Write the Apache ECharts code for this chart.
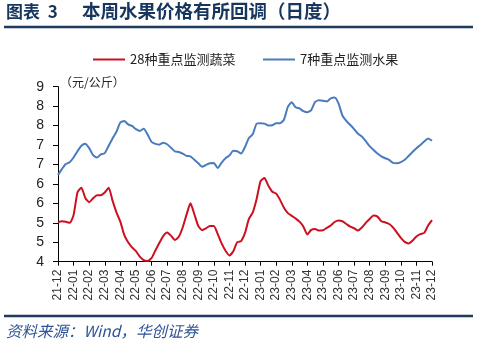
<!DOCTYPE html>
<html>
<head>
<meta charset="utf-8">
<script src="https://cdn.jsdelivr.net/npm/echarts@6/dist/echarts.min.js"></script>
<style>
  html, body { margin: 0; padding: 0; background: #fff; }
  #chart { width: 481px; height: 348px; }
</style>
</head>
<body>
<div id="chart"></div>
<script>
// Month tick labels on the x axis
var monthLabels = ['21-12','22-01','22-02','22-03','22-04','22-05','22-06','22-07','22-08','22-09','22-10','22-11','22-12',
                   '23-01','23-02','23-03','23-04','23-05','23-06','23-07','23-08','23-09','23-10','23-11','23-12'];
// Y tick labels (as printed in the source, rounded to integers)
var yTickLabels = ['4','5','5','6','6','7','7','8','8','9'];

var seriesNames = ['28种重点监测蔬菜', '7种重点监测水果'];

// 28种重点监测蔬菜 (元/公斤), weekly readings, 4 per month
var vegValues = [
  5.01, 5.04, 5.03, 5.00,
  5.20, 5.78, 5.90, 5.64,
  5.53, 5.63, 5.71, 5.71,
  5.78, 5.90, 5.57, 5.27,
  5.03, 4.69, 4.50, 4.37,
  4.27, 4.13, 4.04, 4.02,
  4.09, 4.29, 4.48, 4.66,
  4.75, 4.67, 4.56, 4.64,
  4.88, 5.21, 5.50, 5.22,
  4.92, 4.81, 4.86, 4.92,
  4.92, 4.71, 4.47, 4.28,
  4.16, 4.27, 4.50, 4.53,
  4.74, 5.10, 5.27, 5.62,
  6.07, 6.15, 5.95, 5.80,
  5.75, 5.59, 5.39, 5.25,
  5.18, 5.11, 5.03, 4.90,
  4.70, 4.82, 4.84, 4.80,
  4.81, 4.87, 4.93, 5.02,
  5.06, 5.04, 4.97, 4.90,
  4.86, 4.80, 4.88, 5.00,
  5.10, 5.19, 5.16, 5.04,
  5.01, 4.97, 4.88, 4.75,
  4.61, 4.51, 4.47, 4.54,
  4.65, 4.71, 4.74, 4.93,
  5.07
];

// 7种重点监测水果 (元/公斤), weekly readings, 4 per month
var fruitValues = [
  6.23, 6.38, 6.51, 6.56,
  6.68, 6.84, 6.98, 7.03,
  6.92, 6.74, 6.68, 6.76,
  6.79, 6.98, 7.17, 7.34,
  7.58, 7.62, 7.53, 7.49,
  7.41, 7.36, 7.42, 7.27,
  7.08, 7.03, 7.01, 7.06,
  7.02, 6.93, 6.84, 6.82,
  6.78, 6.72, 6.71, 6.62,
  6.53, 6.44, 6.49, 6.53,
  6.54, 6.41, 6.55, 6.66,
  6.73, 6.85, 6.84, 6.78,
  6.95, 7.18, 7.28, 7.55,
  7.56, 7.55, 7.50, 7.51,
  7.56, 7.56, 7.65, 7.98,
  8.10, 7.97, 7.94, 7.87,
  7.84, 7.90, 8.11, 8.15,
  8.14, 8.12, 8.20, 8.22,
  8.07, 7.76, 7.62, 7.52,
  7.41, 7.29, 7.22, 7.10,
  6.97, 6.87, 6.78, 6.71,
  6.66, 6.62, 6.54, 6.53,
  6.56, 6.62, 6.72, 6.82,
  6.92, 7.00, 7.09, 7.17,
  7.11
];

// weekly categories: 4 per month, ending at the last month label
var categories = [];
for (var i = 0; i < monthLabels.length; i++) {
  if (i < monthLabels.length - 1) {
    for (var w = 1; w <= 4; w++) categories.push(monthLabels[i] + ' W' + w);
  } else {
    categories.push(monthLabels[i] + ' W1');
  }
}

var navy = '#1d3b5c';
var chart = echarts.init(document.getElementById('chart'), null, { renderer: 'canvas' });
chart.setOption({
  animation: false,
  backgroundColor: '#fff',
  textStyle: { fontFamily: 'Liberation Sans, Arial, sans-serif' },
  grid: { left: 58, right: 49, top: 86.7, bottom: 86.3, containLabel: false },
  legend: [
    {
      left: 88, top: 48, itemWidth: 32, itemHeight: 2, icon: 'rect',
      data: [seriesNames[0]],
      textStyle: { fontFamily: 'Noto Sans CJK SC', fontSize: 13, color: '#222' }
    },
    {
      left: 258, top: 48, itemWidth: 32, itemHeight: 2, icon: 'rect',
      data: [seriesNames[1]],
      textStyle: { fontFamily: 'Noto Sans CJK SC', fontSize: 13, color: '#222' }
    }
  ],
  xAxis: {
    type: 'category',
    data: categories,
    boundaryGap: false,
    axisLine: { lineStyle: { color: '#000', width: 1 } },
    axisTick: { interval: 3, length: 4, lineStyle: { color: '#000' } },
    axisLabel: {
      interval: 3, rotate: 90, margin: 8,
      fontSize: 12, color: '#333', fontFamily: 'Liberation Sans',
      formatter: function (v) { return v.slice(0, 5); }
    },
    splitLine: { show: false }
  },
  yAxis: {
    type: 'value',
    min: 4, max: 8.5, interval: 0.5,
    axisLine: { show: true, lineStyle: { color: '#000', width: 1 } },
    axisTick: { show: true, inside: false, length: 5, lineStyle: { color: '#000' } },
    axisLabel: {
      margin: 14, fontSize: 14, color: '#222', fontFamily: 'Liberation Sans',
      formatter: function (v) { return yTickLabels[Math.round((v - 4) / 0.5)]; }
    },
    splitLine: { show: false }
  },
  series: [
    {
      name: seriesNames[0], type: 'line', data: vegValues,
      symbol: 'none', smooth: 0.2,
      lineStyle: { color: '#cc1020', width: 2 },
      itemStyle: { color: '#cc1020' }
    },
    {
      name: seriesNames[1], type: 'line', data: fruitValues,
      symbol: 'none', smooth: 0.2,
      lineStyle: { color: '#4a7bbd', width: 2 },
      itemStyle: { color: '#4a7bbd' }
    }
  ],
  graphic: [
    {
      type: 'text', left: 6, top: 3,
      style: { text: '图表  3', fontFamily: 'Noto Sans CJK SC', fontWeight: 'bold', fontSize: 17, fill: '#17365d' }
    },
    {
      type: 'text', left: 82, top: 2,
      style: { text: '本周水果价格有所回调（日度）', fontFamily: 'Noto Sans CJK SC', fontWeight: 'bold', fontSize: 18.5, fill: '#17365d' }
    },
    {
      type: 'line', shape: { x1: 4, y1: 27, x2: 473, y2: 27 },
      style: { stroke: navy, lineWidth: 2.5 }
    },
    {
      type: 'text', left: 60, top: 76,
      style: { text: '（元/公斤）', fontFamily: 'Noto Sans CJK SC', fontSize: 12, fill: '#222' }
    },
    {
      type: 'line', shape: { x1: 4, y1: 316, x2: 473, y2: 316 },
      style: { stroke: navy, lineWidth: 2.5 }
    },
    {
      type: 'text', left: 6, top: 323,
      style: { text: '资料来源：Wind，华创证券', fontFamily: 'Noto Sans CJK SC', fontStyle: 'italic', fontSize: 15.5, fill: '#2f5496' }
    }
  ]
});
</script>
</body>
</html>
